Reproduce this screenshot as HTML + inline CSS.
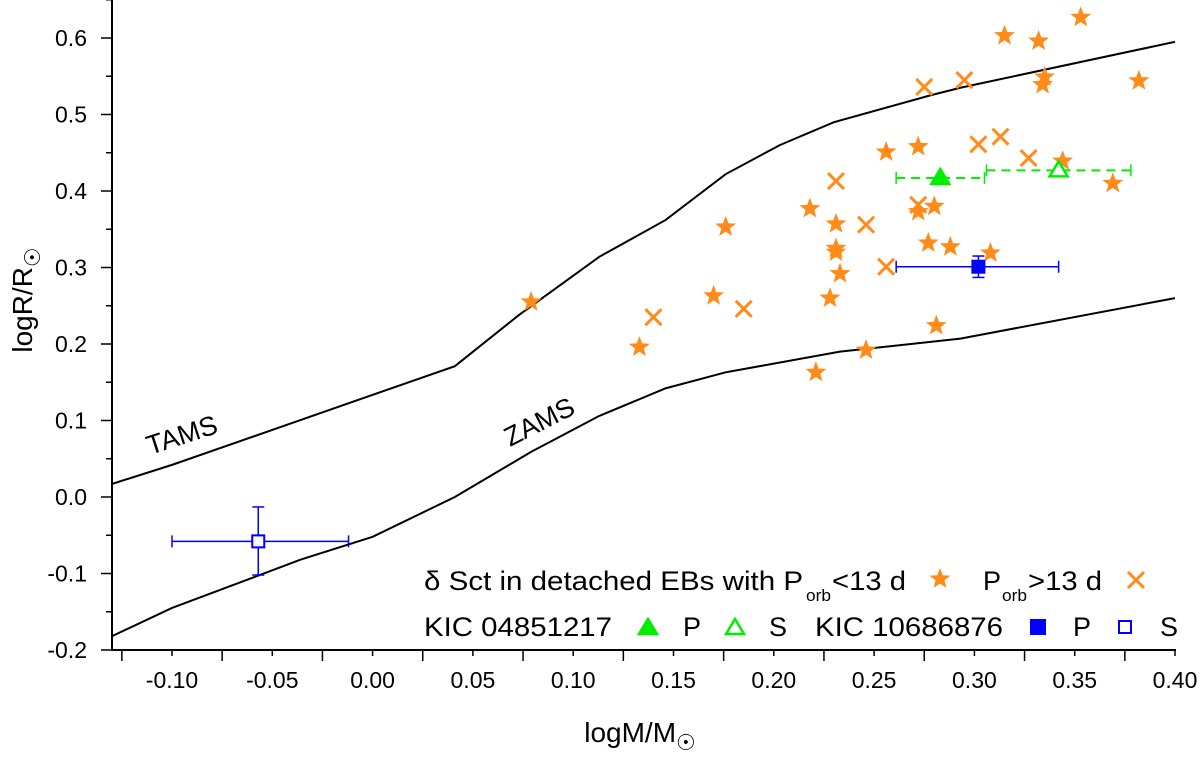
<!DOCTYPE html>
<html><head><meta charset="utf-8"><style>
body{margin:0;background:#fff}
svg{display:block;font-family:"Liberation Sans",sans-serif}
</style></head><body>
<svg id="c" width="1200" height="758" viewBox="0 0 1200 758">
<g id="axes"></g>
<g id="marks"></g>
<text x="150" y="455" font-size="27" transform="rotate(-18 150 455)">TAMS</text>
<text x="510" y="447" font-size="27" transform="rotate(-27 510 447)">ZAMS</text>
<text transform="translate(32 300) rotate(-90)" text-anchor="middle" font-size="28">logR/R<tspan font-size="22" dy="8">☉</tspan></text>
<text x="640" y="742" text-anchor="middle" font-size="28">logM/M<tspan font-size="22" dy="8">☉</tspan></text>
<g font-size="27">
<text x="424" y="590" textLength="379" lengthAdjust="spacingAndGlyphs">δ Sct in detached EBs with P</text>
<text x="806" y="601" font-size="17" textLength="25" lengthAdjust="spacingAndGlyphs">orb</text>
<text x="832" y="590" textLength="74" lengthAdjust="spacingAndGlyphs">&lt;13 d</text>
<text x="983" y="590">P</text>
<text x="1002" y="601" font-size="17" textLength="25" lengthAdjust="spacingAndGlyphs">orb</text>
<text x="1028" y="590" textLength="74" lengthAdjust="spacingAndGlyphs">&gt;13 d</text>
<text x="424" y="636" textLength="188" lengthAdjust="spacingAndGlyphs">KIC 04851217</text>
<text x="683" y="636">P</text><text x="769" y="636">S</text>
<text x="815" y="636" textLength="188" lengthAdjust="spacingAndGlyphs">KIC 10686876</text>
<text x="1073" y="636">P</text><text x="1160" y="636">S</text>
</g>
</svg>
<script>
const ticksX=[-0.10,-0.05,0.00,0.05,0.10,0.15,0.20,0.25,0.30,0.35,0.40];
const ticksY=[-0.2,-0.1,0.0,0.1,0.2,0.3,0.4,0.5,0.6];
const tamsX=[-0.13,-0.1,0.041,0.073,0.113,0.146,0.176,0.203,0.23,0.278,0.293,0.40];
const tamsY=[0.017,0.042,0.171,0.238,0.314,0.362,0.422,0.46,0.49,0.525,0.535,0.595];
const zamsX=[-0.13,-0.1,-0.036,0,0.041,0.079,0.113,0.146,0.176,0.233,0.293,0.40];
const zamsY=[-0.182,-0.145,-0.082,-0.052,0.0,0.059,0.106,0.142,0.163,0.19,0.207,0.26];
const starX=[0.353,0.315,0.332,0.335,0.334,0.382,0.256,0.272,0.344,0.369,0.218,0.176,0.231,0.280,0.272,0.231,0.231,0.233,0.277,0.288,0.308,0.170,0.228,0.133,0.281,0.246,0.221,0.079];
const starY=[0.627,0.603,0.596,0.549,0.539,0.544,0.451,0.458,0.439,0.410,0.377,0.353,0.357,0.380,0.373,0.325,0.320,0.292,0.332,0.327,0.319,0.263,0.260,0.196,0.224,0.192,0.163,0.255];
const crossX=[0.275,0.295,0.302,0.313,0.327,0.231,0.246,0.272,0.256,0.140,0.185];
const crossY=[0.536,0.545,0.461,0.471,0.443,0.413,0.356,0.382,0.301,0.235,0.246];
const kicA_P=[0.283,0.417,0.261,0.305];
const kicA_S=[0.342,0.427,0.306,0.378];
const kicB_P=[0.302,0.301,0.261,0.342,0.287,0.315];
const kicB_S=[-0.057,-0.058,-0.100,-0.012,-0.102,-0.013];
const X=v=>372.6+v*2006, Y=v=>497-v*765;
const NS='http://www.w3.org/2000/svg';
function mk(t,a,p){const e=document.createElementNS(NS,t);for(const k in a)e.setAttribute(k,a[k]);p.appendChild(e);return e;}
const ax=document.getElementById('axes'), mg=document.getElementById('marks');
let l=mk('line',{x1:112,y1:650,x2:1176,y2:650,stroke:'#000','stroke-width':2},ax);


l=mk('line',{x1:112,y1:0,x2:112,y2:651,stroke:'#000','stroke-width':2},ax);


for(let v=-0.125;v<=0.401;v+=0.025){const m=Math.abs(Math.round(v*40))%2===0;mk('line',{x1:X(v),y1:650,x2:X(v),y2:650+(m?6:11),stroke:'#000','stroke-width':1.5},ax);}
ticksX.forEach(v=>{const t=mk('text',{x:X(v),y:688,'text-anchor':'middle','font-size':23},ax);t.textContent=v.toFixed(2);

});
for(let v=-0.2;v<=0.651;v+=0.05){const m=Math.abs(Math.round(v*20))%2===0;mk('line',{x1:112-(m?11:6),y1:Y(v),x2:112,y2:Y(v),stroke:'#000','stroke-width':1.5},ax);}
ticksY.forEach(v=>{const t=mk('text',{x:87,y:Y(v)+8,'text-anchor':'end','font-size':23},ax);t.textContent=v.toFixed(1);

});
function line(xs,ys,name){const p=mk('polyline',{points:xs.map((x,i)=>X(x)+','+Y(ys[i])).join(' '),fill:'none',stroke:'#000','stroke-width':2},mg);

}
line(tamsX,tamsY,'tams-line');line(zamsX,zamsY,'zams-line');
function starPath(cx,cy,r){let s='';for(let i=0;i<10;i++){const rr=i%2?r*0.42:r;const a=-Math.PI/2+i*Math.PI/5;s+=(i?'L':'M')+(cx+rr*Math.cos(a)).toFixed(1)+','+(cy+rr*Math.sin(a)).toFixed(1);}return s+'Z';}
const OR='#ff8c1a';
function star(cx,cy,r){const p=mk('path',{d:starPath(cx,cy,r),fill:OR},mg);

}
function cross(cx,cy,r){const p=mk('path',{d:`M${cx-r},${cy-r}L${cx+r},${cy+r}M${cx-r},${cy+r}L${cx+r},${cy-r}`,stroke:OR,'stroke-width':3,fill:'none'},mg);

}
starX.forEach((x,i)=>star(X(x),Y(starY[i]),11));
crossX.forEach((x,i)=>cross(X(x),Y(crossY[i]),8));
function errH(d,col,dash){const y=Y(d[1]);const a={stroke:col,'stroke-width':dash?2:1.5};if(dash)a['stroke-dasharray']='9,6';
mk('line',Object.assign({x1:X(d[2]),y1:y,x2:X(d[3]),y2:y},a),mg);
mk('line',{x1:X(d[2]),y1:y-6,x2:X(d[2]),y2:y+6,stroke:col,'stroke-width':1.5},mg);
mk('line',{x1:X(d[3]),y1:y-6,x2:X(d[3]),y2:y+6,stroke:col,'stroke-width':1.5},mg);}
function errV(d,col){const x=X(d[0]);mk('line',{x1:x,y1:Y(d[4]),x2:x,y2:Y(d[5]),stroke:col,'stroke-width':1.5},mg);
[d[4],d[5]].forEach(v=>mk('line',{x1:x-6,y1:Y(v),x2:x+6,y2:Y(v),stroke:col,'stroke-width':1.5},mg));}
const G='#00ee00',B='#0000ff';
errH(kicA_P,G,true);errH(kicA_S,G,true);
errH(kicB_P,B,false);errV(kicB_P,B);errH(kicB_S,B,false);errV(kicB_S,B);
function tri(cx,cy,fill,name){const p=mk('path',{d:`M${cx},${cy-9}L${cx+9},${cy+6}L${cx-9},${cy+6}Z`,fill:fill?G:'#fff',stroke:G,'stroke-width':2.5},mg);

}
function sq(cx,cy,fill,name,s){const p=mk('rect',{x:cx-s,y:cy-s,width:2*s,height:2*s,fill:fill?B:'#fff',stroke:B,'stroke-width':2},mg);

}
tri(X(kicA_P[0]),Y(kicA_P[1]),true,'kic04851217-primary');
tri(X(kicA_S[0]),Y(kicA_S[1]),false,'kic04851217-secondary');
sq(X(kicB_P[0]),Y(kicB_P[1]),true,'kic10686876-primary',6);
sq(X(kicB_S[0]),Y(kicB_S[1]),false,'kic10686876-secondary',6);
// legend markers
star(940,579,11);cross(1136,580,8);
tri(648,628,true,'legend-marker-a-p');tri(735,628,false,'legend-marker-a-s');
sq(1038,627,true,'legend-marker-b-p',7);sq(1125,627,false,'legend-marker-b-s',6);
</script>
</body></html>
